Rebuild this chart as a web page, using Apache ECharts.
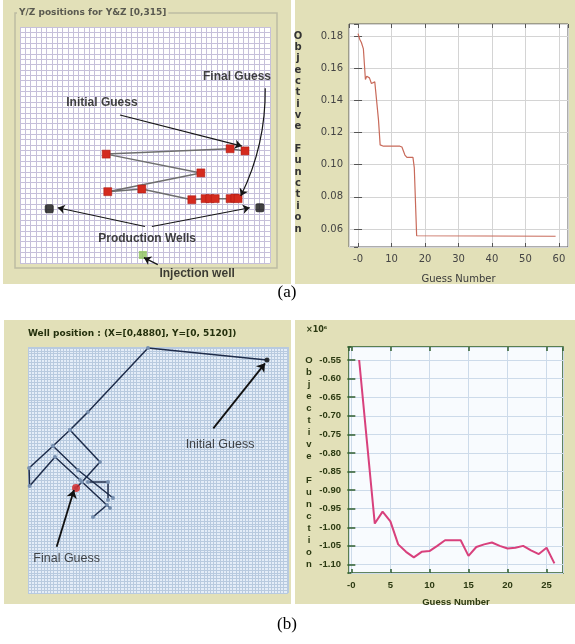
<!DOCTYPE html>
<html><head><meta charset="utf-8">
<script src="https://cdn.jsdelivr.net/npm/echarts@6/dist/echarts.min.js"></script>
<style>html,body{margin:0;padding:0;background:#fff}#c{width:575px;height:644px}</style>
</head><body><div id="c"></div>
<script>
// ---------- (a) left : Y/Z positions (grid-cell units) ----------
const aPath = [[42.3,20.9],[39.5,21.3],[16.2,20.3],[34.0,16.8],[16.5,13.3],[22.9,13.8],[32.3,11.8],[34.8,12.0],[35.7,12.0],[36.7,12.0],[39.5,12.0],[40.4,12.1],[41.0,12.0]];
const aProdWells = [[5.5,10.1],[45.1,10.3]];
const aInjWell = [[23.1,1.5]];
const aArrows = [
  {from:[18.8,27.6], to:[41.7,21.8], curve:0},
  {from:[46.1,32.6], to:[41.5,12.5], curve:0.12},
  {from:[23.5,6.8], to:[7.1,10.3], curve:0},
  {from:[24.8,6.8], to:[43.2,10.3], curve:0},
  {from:[25.9,-0.3], to:[23.3,1.0], curve:0}
];
const aNotes = [
  {name:'Final Guess', at:[40.8,34.8]},
  {name:'Initial Guess', at:[15.4,29.8]},
  {name:'Production Wells', at:[23.9,4.5]},
  {name:'Injection well', at:[33.3,-2.0]}
];
// ---------- (a) right : objective vs guess ----------
const aGuessNum = [0,0.5,1,1.6,2.2,2.6,3.4,4,4.4,5,5.5,6.1,6.6,7.6,12.5,13.1,14,14.6,16.4,16.8,17.5,59];
const aObj = [0.1815,0.178,0.176,0.172,0.153,0.155,0.154,0.1505,0.1495,0.1515,0.1505,0.128,0.1123,0.1115,0.1115,0.111,0.106,0.1045,0.1045,0.098,0.0558,0.0555];
// ---------- (b) left : well position (X in [0,4880], Y in [0,5120]) ----------
const bWellSegs = [
  [[4486,4849],[2252,5100],[1126,3767],[788,3392],[469,3059],[20,2601],[30,2227],[507,2830],[976,2352],[1539,1769]],
  [[788,3392],[1351,2726],[1014,2310],[901,2185]],
  [[469,3059],[938,2560],[1595,1977]],
  [[1126,2310],[1502,2310],[1502,1935]],
  [[1220,1582],[1483,1831]]
];
const bInitial = [[4486,4849]];
const bFinal = [[901,2185]];
const bArrows = [
  {from:[3478,3427], to:[4449,4780]},
  {from:[538,963], to:[863,2143]}
];
const bNotes = [
  {name:'Initial Guess', at:[3604,3080]},
  {name:'Final Guess', at:[726,722]}
];
// ---------- (b) right : objective (x10^6) vs guess ----------
const bGuessNum = [1,2,3,4,5,6,7,8,9,10,11,12,13,14,15,16,17,18,19,20,21,22,23,24,25,26];
const bObj = [-0.55,-0.77,-0.99,-0.958,-0.984,-1.046,-1.066,-1.081,-1.066,-1.064,-1.05,-1.035,-1.035,-1.035,-1.077,-1.053,-1.046,-1.041,-1.05,-1.057,-1.055,-1.05,-1.062,-1.072,-1.055,-1.097];

const BEIGE = '#e2e0b8';
const chart = echarts.init(document.getElementById('c'), null, {renderer:'canvas'});
const vText = 'O\nb\nj\ne\nc\nt\ni\nv\ne\n \nF\nu\nn\nc\nt\ni\no\nn';
function zip(a,b){return a.map((v,i)=>[v,b[i]]);}
function hiddenAxis(ext){return Object.assign({type:'value',axisLabel:{show:false},axisTick:{show:false},axisLine:{show:false}},ext);}

const opt = {
  animation:false,
  backgroundColor:'#fff',
  grid:[
    {left:20, top:27, width:250, height:236, show:true, backgroundColor:'#fff', borderWidth:0},
    {left:349, top:24, width:219, height:223, show:true, backgroundColor:'#fff', borderColor:'#5a5a5a', borderWidth:1},
    {left:28, top:347, width:260, height:246, show:true, backgroundColor:'#e4edf8', borderWidth:0},
    {left:349, top:347, width:214, height:226, show:true, backgroundColor:'#f8fbfe', borderColor:'#2e5e2e', borderWidth:1.5}
  ],
  xAxis:[
    hiddenAxis({gridIndex:0, min:0, max:47, interval:1, splitLine:{show:true, lineStyle:{color:'#c6c0da', width:1}}}),
    {type:'value', gridIndex:1, min:-2.7, max:62.7, minInterval:10, maxInterval:10,
     axisLine:{show:false}, axisTick:{inside:true, length:4, lineStyle:{color:'#555'}},
     splitLine:{show:true, lineStyle:{color:'#d4d4d4'}},
     axisLabel:{showMinLabel:false, showMaxLabel:false, fontSize:10, color:'#444', fontFamily:'DejaVu Sans', margin:7, formatter:v=>v===0?'-0':String(v)},
     name:'Guess Number', nameLocation:'middle', nameGap:27, nameTextStyle:{fontSize:10, color:'#3a3a3a', fontFamily:'DejaVu Sans'}},
    {type:'value', gridIndex:1, position:'top', min:-2.7, max:62.7, minInterval:10, maxInterval:10,
     axisLine:{show:false}, axisLabel:{show:false}, splitLine:{show:false}, axisTick:{inside:true, length:4, lineStyle:{color:'#555'}}},
    hiddenAxis({gridIndex:2, min:0, max:4880, interval:60, splitLine:{show:true, lineStyle:{color:'#b8cadf', width:1}}}),
    {type:'value', gridIndex:3, min:-0.3, max:27.1, minInterval:5, maxInterval:5,
     axisLine:{show:false}, axisTick:{inside:true, length:4, lineStyle:{color:'#2e5e2e', width:1.5}},
     splitLine:{show:true, lineStyle:{color:'#cddbea'}},
     axisLabel:{showMinLabel:false, showMaxLabel:false, fontSize:9.5, fontWeight:'bold', color:'#2c3a12', fontFamily:'Liberation Sans', margin:7, formatter:v=>v===0?'-0':String(v)},
     name:'Guess Number', nameLocation:'middle', nameGap:24, nameTextStyle:{fontSize:9.5, fontWeight:'bold', color:'#2c3a12', fontFamily:'Liberation Sans'}},
    {type:'value', gridIndex:3, position:'top', min:-0.3, max:27.1, minInterval:5, maxInterval:5,
     axisLine:{show:false}, axisLabel:{show:false}, splitLine:{show:false}, axisTick:{inside:true, length:4, lineStyle:{color:'#2e5e2e', width:1.5}}}
  ],
  yAxis:[
    hiddenAxis({gridIndex:0, min:0, max:44, interval:1, splitLine:{show:true, lineStyle:{color:'#c6c0da', width:1}}}),
    {type:'value', gridIndex:1, min:0.0488, max:0.1875, minInterval:0.02, maxInterval:0.02,
     axisLine:{show:false}, axisTick:{inside:true, length:4, lineStyle:{color:'#555'}},
     splitLine:{show:true, lineStyle:{color:'#d4d4d4'}},
     axisLabel:{showMinLabel:false, showMaxLabel:false, fontSize:10, color:'#444', fontFamily:'DejaVu Sans', margin:6, formatter:v=>v.toFixed(2)}},
    {type:'value', gridIndex:1, position:'right', min:0.0488, max:0.1875, minInterval:0.02, maxInterval:0.02,
     axisLine:{show:false}, axisLabel:{show:false}, splitLine:{show:false}, axisTick:{inside:true, length:4, lineStyle:{color:'#555'}}},
    hiddenAxis({gridIndex:2, min:0, max:5120, interval:60, splitLine:{show:true, lineStyle:{color:'#b8cadf', width:1}}}),
    {type:'value', gridIndex:3, min:-1.123, max:-0.515, minInterval:0.05, maxInterval:0.05,
     axisLine:{show:false}, axisTick:{inside:true, length:4, lineStyle:{color:'#2e5e2e', width:1.5}},
     splitLine:{show:true, lineStyle:{color:'#cddbea'}},
     axisLabel:{showMinLabel:false, showMaxLabel:false, fontSize:9.5, fontWeight:'bold', color:'#2c3a12', fontFamily:'Liberation Sans', margin:8, formatter:v=>v.toFixed(2)}},
    {type:'value', gridIndex:3, position:'right', min:-1.123, max:-0.515, minInterval:0.05, maxInterval:0.05,
     axisLine:{show:false}, axisLabel:{show:false}, splitLine:{show:false}, axisTick:{inside:true, length:4, lineStyle:{color:'#2e5e2e', width:1.5}}}
  ],
  series:[
    {type:'line', xAxisIndex:0, yAxisIndex:0, data:aPath, symbol:'rect', symbolSize:8,
     itemStyle:{color:'#d42a1e', borderColor:'#a81810', borderWidth:0.5}, lineStyle:{color:'#6e6e6e', width:1.5}, z:3},
    {type:'scatter', xAxisIndex:0, yAxisIndex:0, data:aProdWells, symbol:'roundRect', symbolSize:9, itemStyle:{color:'#111'}, z:4},
    {type:'scatter', xAxisIndex:0, yAxisIndex:0, data:aInjWell, symbol:'rect', symbolSize:8, itemStyle:{color:'#8cc25a'}, z:4},
    {type:'lines', coordinateSystem:'cartesian2d', xAxisIndex:0, yAxisIndex:0, clip:false, polyline:false,
     symbol:['none','arrow'], symbolSize:7, lineStyle:{color:'#151515', width:1.2, opacity:1},
     data:aArrows.map(a=>({coords:[a.from,a.to], lineStyle:{curveness:a.curve}})), z:5},
    {type:'scatter', xAxisIndex:0, yAxisIndex:0, clip:false, symbolSize:0, silent:true,
     data:aNotes.map(n=>({name:n.name, value:n.at})),
     label:{show:true, position:[0,0], align:'center', verticalAlign:'middle', formatter:'{b}', fontSize:12, fontWeight:'bold', color:'#111', fontFamily:'Liberation Sans'}, z:6},
    {type:'line', xAxisIndex:1, yAxisIndex:1, data:zip(aGuessNum,aObj), showSymbol:false, lineStyle:{color:'#c86a5a', width:1.2}},
    ...bWellSegs.map(seg=>({type:'line', xAxisIndex:3, yAxisIndex:3, data:seg, symbol:'circle', symbolSize:4,
      itemStyle:{color:'#7890b0'}, lineStyle:{color:'#1e2c4a', width:1.5}, z:3})),
    {type:'scatter', xAxisIndex:3, yAxisIndex:3, data:bInitial, symbolSize:5, itemStyle:{color:'#111'}, z:4},
    {type:'scatter', xAxisIndex:3, yAxisIndex:3, data:bFinal, symbolSize:8, itemStyle:{color:'#d42020'}, z:4},
    {type:'lines', coordinateSystem:'cartesian2d', xAxisIndex:3, yAxisIndex:3, clip:false,
     symbol:['none','arrow'], symbolSize:8, lineStyle:{color:'#111', width:1.8, opacity:1},
     data:bArrows.map(a=>({coords:[a.from,a.to]})), z:5},
    {type:'scatter', xAxisIndex:3, yAxisIndex:3, clip:false, symbolSize:0, silent:true,
     data:bNotes.map(n=>({name:n.name, value:n.at})),
     label:{show:true, position:[0,0], align:'center', verticalAlign:'middle', formatter:'{b}', fontSize:12.5, color:'#1a1a1a', fontFamily:'Liberation Sans'}, z:6},
    {type:'line', xAxisIndex:4, yAxisIndex:4, data:zip(bGuessNum,bObj), showSymbol:false, lineStyle:{color:'#d8407c', width:2}}
  ],
  graphic:[
    {type:'rect', z:-10, shape:{x:3,y:0,width:288,height:284}, style:{fill:BEIGE}},
    {type:'rect', z:-10, shape:{x:295,y:0,width:280,height:284}, style:{fill:BEIGE}},
    {type:'rect', z:-10, shape:{x:4,y:320,width:287,height:284}, style:{fill:BEIGE}},
    {type:'rect', z:-10, shape:{x:295,y:320,width:280,height:284}, style:{fill:BEIGE}},
    {type:'rect', z:-5, shape:{x:15,y:13,width:262,height:255}, style:{fill:null, stroke:'#bdbca2', lineWidth:1.5}},
    {type:'text', z:10, x:17, y:8, style:{text:'Y/Z positions for Y&Z [0,315]', fontSize:9, fontWeight:'bold', fill:'#5a5a50', fontFamily:'DejaVu Sans', backgroundColor:BEIGE, padding:[0,2]}},
    {type:'text', z:10, x:28, y:329, style:{text:'Well position : (X=[0,4880], Y=[0, 5120])', fontSize:9, fontWeight:'bold', fill:'#24300c', fontFamily:'DejaVu Sans'}},
    {type:'text', z:10, x:298, y:30.3, style:{text:vText, align:'center', lineHeight:11.35, fontSize:10, fontWeight:'bold', fill:'#333', fontFamily:'DejaVu Sans'}},
    {type:'text', z:10, x:309, y:354, style:{text:vText, align:'center', lineHeight:12, fontSize:9.5, fontWeight:'bold', fill:'#2c3a12', fontFamily:'Liberation Sans'}},
    {type:'text', z:10, x:306, y:326, style:{text:'\u00d710\u2076', fontSize:8, fontWeight:'bold', fill:'#2c3a12', fontFamily:'DejaVu Sans'}},
    {type:'text', z:10, x:287, y:293, style:{text:'(a)', align:'center', verticalAlign:'middle', fontSize:17, fill:'#000', fontFamily:'Liberation Serif'}},
    {type:'text', z:10, x:287, y:625, style:{text:'(b)', align:'center', verticalAlign:'middle', fontSize:17, fill:'#000', fontFamily:'Liberation Serif'}}
  ]
};
chart.setOption(opt);
</script></body></html>
